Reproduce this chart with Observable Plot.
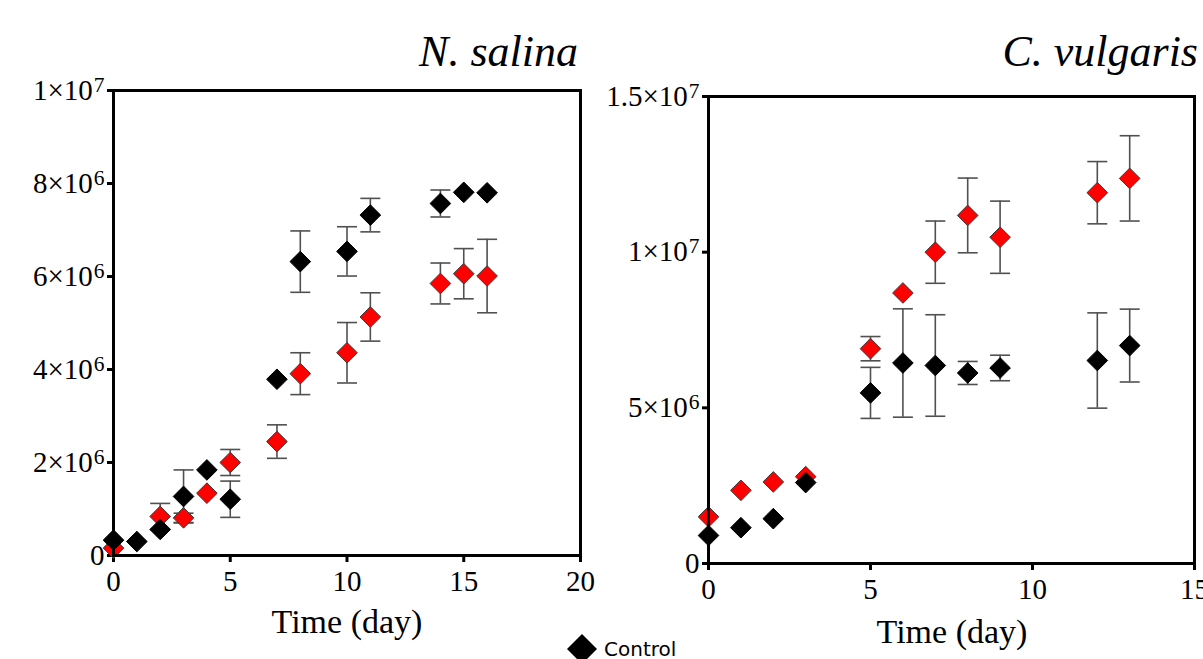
<!DOCTYPE html>
<html><head><meta charset="utf-8">
<script src="https://cdn.jsdelivr.net/npm/d3@7"></script>
<script src="https://cdn.jsdelivr.net/npm/@observablehq/plot@0.6"></script>
<style>
body{margin:0;background:#fff;}
#wrap{position:relative;width:1203px;height:659px;overflow:hidden;background:#fff;font-family:"Liberation Serif","Times New Roman",serif;color:#000;}
.abs{position:absolute;white-space:nowrap;line-height:1;}
.title{font-style:italic;font-size:44px;}
.xlabel{font-size:34px;transform:translateX(-50%);}
.legend{font-family:"DejaVu Sans",Verdana,sans-serif;font-size:20px;display:flex;align-items:center;}
svg{overflow:visible;}
</style></head><body><div id="wrap"></div>
<script>
// ---------- data ----------
const salinaControlDays = [0, 1, 2, 3, 4, 5, 7, 8, 10, 11, 14, 15, 16];
const salinaControl     = [0.33e6, 0.30e6, 0.56e6, 1.27e6, 1.84e6, 1.21e6, 3.79e6, 6.32e6, 6.54e6, 7.32e6, 7.57e6, 7.81e6, 7.80e6];
const salinaControlErr  = [0, 0, 0, 0.57e6, 0, 0.39e6, 0, 0.66e6, 0.53e6, 0.36e6, 0.29e6, 0, 0];
const salinaTreatDays   = [0, 2, 3, 4, 5, 7, 8, 10, 11, 14, 15, 16];
const salinaTreat       = [0.16e6, 0.84e6, 0.81e6, 1.34e6, 2.00e6, 2.45e6, 3.91e6, 4.36e6, 5.13e6, 5.85e6, 6.06e6, 6.01e6];
const salinaTreatErr    = [0, 0.28e6, 0.10e6, 0, 0.28e6, 0.36e6, 0.45e6, 0.65e6, 0.52e6, 0.44e6, 0.54e6, 0.79e6];

const vulgarisDays       = [0, 1, 2, 3, 5, 6, 7, 8, 9, 12, 13];
const vulgarisControl    = [0.90e6, 1.15e6, 1.44e6, 2.60e6, 5.48e6, 6.44e6, 6.36e6, 6.12e6, 6.28e6, 6.52e6, 7.00e6];
const vulgarisControlErr = [0, 0, 0, 0, 0.82e6, 1.74e6, 1.63e6, 0.37e6, 0.41e6, 1.53e6, 1.17e6];
const vulgarisTreat      = [1.50e6, 2.35e6, 2.62e6, 2.79e6, 6.90e6, 8.69e6, 10.0e6, 11.18e6, 10.48e6, 11.91e6, 12.37e6];
const vulgarisTreatErr   = [0, 0, 0, 0, 0.39e6, 0, 1.0e6, 1.2e6, 1.16e6, 1.0e6, 1.37e6];

const salinaXTicks = [0, 5, 10, 15, 20];
const salinaYTicks = [0, 2e6, 4e6, 6e6, 8e6, 1e7];
const salinaYTickLabels = ["0", "2×10⁶", "4×10⁶", "6×10⁶", "8×10⁶", "1×10⁷"];
const vulgarisXTicks = [0, 5, 10, 15];
const vulgarisYTicks = [0, 5e6, 1e7, 1.5e7];
const vulgarisYTickLabels = ["0", "5×10⁶", "1×10⁷", "1.5×10⁷"];

const titles = ["N. salina", "C. vulgaris"];
const xLabel = "Time (day)";
const legendLabel = "Control";

// ---------- helpers ----------
const rows = (days, vals, errs) => days.map((d, i) => ({day: d, v: vals[i], lo: vals[i] - errs[i], hi: vals[i] + errs[i], e: errs[i]}));
const capSymbol = {draw(ctx, size) { const w = Math.sqrt(size / Math.PI); ctx.moveTo(-w, 0); ctx.lineTo(w, 0); }};
const supMap = {"⁰":"0","¹":"1","²":"2","³":"3","⁴":"4","⁵":"5","⁶":"6","⁷":"7","⁸":"8","⁹":"9"};
const FONT = '"Liberation Serif", "Times New Roman", serif';
const TICK_FS = 29;
const ERR = "#505050";

function supify(svg) {
  svg.querySelectorAll("text").forEach(t => {
    const s = t.textContent;
    const m = s.match(/^(.*?)([⁰¹²³⁴⁵⁶⁷⁸⁹]+)$/);
    if (!m) return;
    t.textContent = "";
    const a = document.createElementNS("http://www.w3.org/2000/svg", "tspan");
    a.textContent = m[1];
    const b = document.createElementNS("http://www.w3.org/2000/svg", "tspan");
    b.textContent = [...m[2]].map(c => supMap[c]).join("");
    b.setAttribute("font-size", "0.74em");
    b.setAttribute("dy", "-0.38em");
    b.setAttribute("dx", "1");
    t.append(a, b);
  });
}

function panel({control, treat, xDomain, yDomain, xTicks, yTicks, yLabels, width, height, margins}) {
  const all = [...treat, ...control].filter(d => d.e > 0);
  const svg = Plot.plot({
    width, height,
    marginLeft: margins[0], marginRight: margins[1], marginTop: margins[2], marginBottom: margins[3],
    style: {fontFamily: FONT, fontSize: TICK_FS + "px", color: "black", background: "transparent", overflow: "visible"},
    x: {domain: xDomain},
    y: {domain: yDomain},
    marks: [
      Plot.axisX({ticks: xTicks, tickSize: 7, tickPadding: 8, strokeWidth: 3, label: null, fontSize: TICK_FS, fontFamily: FONT, tickFormat: d => String(d)}),
      Plot.axisY({ticks: yTicks, tickSize: 6, tickPadding: 3, strokeWidth: 3, label: null, fontSize: TICK_FS, fontFamily: FONT, tickFormat: d => yLabels[yTicks.indexOf(d)]}),
      Plot.ruleX(all, {x: "day", y1: "lo", y2: "hi", stroke: ERR, strokeWidth: 1.6}),
      Plot.dot(all, {x: "day", y: "hi", symbol: capSymbol, r: 10, fill: "none", stroke: ERR, strokeWidth: 1.6}),
      Plot.dot(all, {x: "day", y: "lo", symbol: capSymbol, r: 10, fill: "none", stroke: ERR, strokeWidth: 1.6}),
      Plot.dot(treat, {x: "day", y: "v", symbol: "diamond2", r: 9.3, fill: "#ff0000", stroke: "#3a3a3a", strokeWidth: 1}),
      Plot.dot(control, {x: "day", y: "v", symbol: "diamond2", r: 9.3, fill: "#000", stroke: "#000", strokeWidth: 1}),
      Plot.frame({stroke: "black", strokeWidth: 3})
    ]
  });
  supify(svg);
  return svg;
}

const wrap = document.getElementById("wrap");

const left = panel({
  control: rows(salinaControlDays, salinaControl, salinaControlErr),
  treat: rows(salinaTreatDays, salinaTreat, salinaTreatErr),
  xDomain: [0, 20], yDomain: [0, 1e7], xTicks: salinaXTicks, yTicks: salinaYTicks, yLabels: salinaYTickLabels,
  width: 600, height: 600, margins: [113, 20, 90, 45]
});
left.style.position = "absolute"; left.style.left = "0px"; left.style.top = "0px";
wrap.append(left);

const right = panel({
  control: rows(vulgarisDays, vulgarisControl, vulgarisControlErr),
  treat: rows(vulgarisDays, vulgarisTreat, vulgarisTreatErr),
  xDomain: [0, 15], yDomain: [0, 1.5e7], xTicks: vulgarisXTicks, yTicks: vulgarisYTicks, yLabels: vulgarisYTickLabels,
  width: 603, height: 610, margins: [108, 9, 96, 47]
});
right.style.position = "absolute"; right.style.left = "600px"; right.style.top = "0px";
wrap.append(right);

function addDiv(cls, text, css) {
  const d = document.createElement("div");
  d.className = "abs " + cls;
  d.textContent = text;
  Object.assign(d.style, css);
  wrap.append(d);
  return d;
}
addDiv("title", titles[0], {right: (1203 - 578) + "px", top: "30px"});
addDiv("title", titles[1], {right: (1203 - 1198) + "px", top: "30px"});
addDiv("xlabel", xLabel, {left: "347px", top: "605px"});
addDiv("xlabel", xLabel, {left: "952px", top: "615px"});

// legend
const lg = document.createElement("div");
lg.className = "abs legend";
Object.assign(lg.style, {left: "566px", top: "633px"});
lg.innerHTML = '<svg width="32" height="32" style="display:block"><polygon points="16,1 31,16 16,31 1,16" fill="#000"/></svg>';
const lt = document.createElement("span");
lt.textContent = legendLabel;
lt.style.marginLeft = "6px";
lg.append(lt);
wrap.append(lg);
</script>
</body></html>
